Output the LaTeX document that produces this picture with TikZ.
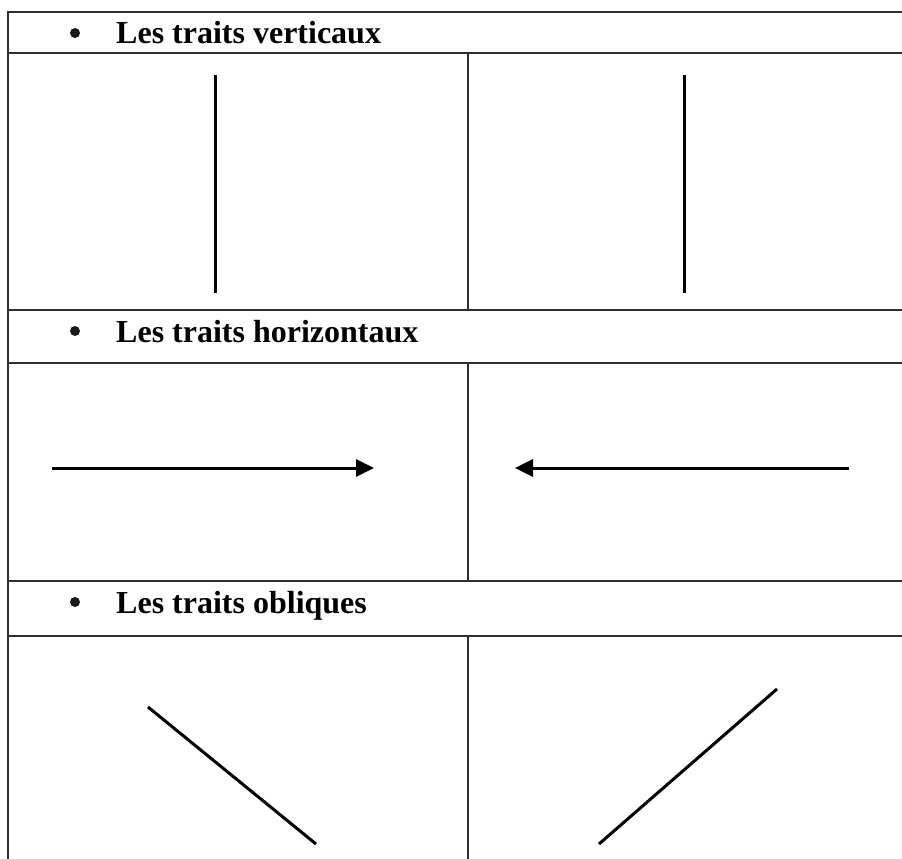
\documentclass[tikz,border=0pt]{standalone}
\usepackage{fontspec}
\setmainfont{Liberation Serif}
\usetikzlibrary{arrows.meta}
\definecolor{grille}{HTML}{2E2E2E}
\tikzset{
  grille/.style={draw=grille,line width=2.6pt},
  trait/.style={draw=black,line width=3pt},
  pointe/.style={-{Triangle[length=18pt,width=17pt]}},
  titre/.style={anchor=base west,inner sep=0pt,font=\fontsize{32}{38}\selectfont\bfseries},
  puce/.style={circle,fill=black!90,inner sep=0pt,minimum size=10pt},
}
\begin{document}
\begin{tikzpicture}[x=1pt,y=-1pt]
  \useasboundingbox (0,0) rectangle (902,859);
  % grille du tableau
  \foreach \y in {12,53,310,363,581,636}
    \draw[grille] (8,\y) -- (902,\y);
  \draw[grille] (8,11) -- (8,859);
  \foreach \a/\b in {53/310,363/581,636/859}
    \draw[grille] (468,\a) -- (468,\b);

  % titres
  \foreach \y/\nom/\texte in {44/vert/Les traits verticaux,
                              342/hori/Les traits horizontaux,
                              613/obli/Les traits obliques} {
    \node[puce] (puce-\nom) at (75,\y-11) {};
    \node[titre] (titre-\nom) at (116,\y) {\texte};
  }

  % traits verticaux
  \coordinate (v1h) at (215,75);  \coordinate (v1b) at (215,293);
  \coordinate (v2h) at (684,75);  \coordinate (v2b) at (684,293);
  \draw[trait] (v1h) -- (v1b);
  \draw[trait] (v2h) -- (v2b);

  % traits horizontaux
  \coordinate (h1g) at (52,468);  \coordinate (h1d) at (374,468);
  \coordinate (h2d) at (849,468); \coordinate (h2g) at (515,468);
  \draw[trait,pointe] (h1g) -- (h1d);
  \draw[trait,pointe] (h2d) -- (h2g);

  % traits obliques
  \coordinate (o1h) at (148,707); \coordinate (o1b) at (316,844);
  \coordinate (o2h) at (777,689); \coordinate (o2b) at (599,844);
  \draw[trait] (o1h) -- (o1b);
  \draw[trait] (o2h) -- (o2b);
\end{tikzpicture}
\end{document}
